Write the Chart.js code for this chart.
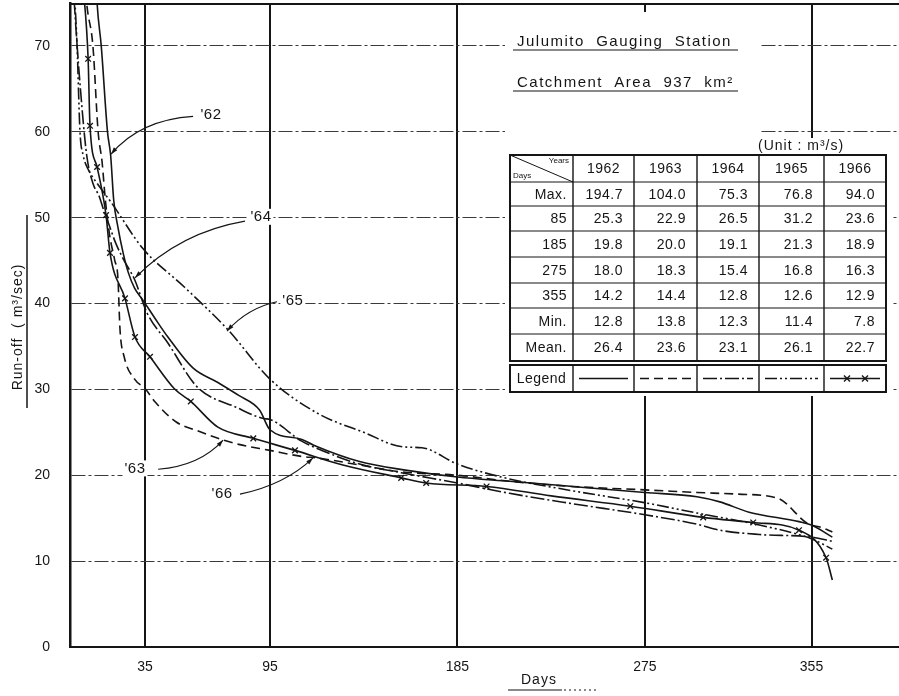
<!DOCTYPE html>
<html>
<head>
<meta charset="utf-8">
<script src="https://cdn.jsdelivr.net/npm/chart.js@4.4.1/dist/chart.umd.min.js"></script>
<style>
html, body { margin: 0; padding: 0; background: #fff; }
</style>
</head>
<body>
<canvas id="myChart" width="899" height="696"></canvas>
<script>
// axis ticks
const dayTicks = [35, 95, 185, 275, 355];
const flowTicks = [0, 10, 20, 30, 40, 50, 60, 70];

// duration curves (days, m3/s)
const days1962 = [1, 6, 10, 12, 14, 17, 18.5, 20, 22, 24.5, 27, 30, 34, 40, 46, 58, 70, 80, 90, 95, 110, 116, 138, 160, 185, 210, 240, 275, 300, 311, 325, 349, 355, 365];
const flow1962 = [194.7, 110, 86, 75, 70, 60, 57.3, 52, 48.9, 45.9, 43.6, 41.8, 40.4, 38.2, 36.1, 32.5, 30.8, 29.3, 27.6, 25.3, 24.2, 23.5, 21.6, 20.6, 19.8, 19.3, 18.7, 18.0, 17.5, 16.9, 15.7, 14.6, 14.2, 12.8];

const days1963 = [1, 4, 7, 10, 12.5, 14.4, 16, 18, 20.5, 22, 23, 25, 30, 35, 40, 50, 60, 70, 80, 95, 110, 118, 138, 158, 185, 210, 240, 275, 300, 320, 339, 353, 360, 365];
const flow1963 = [104, 85, 75, 70, 60, 56.5, 52, 48, 45, 43, 37, 33.8, 31.2, 30.1, 28.5, 26.2, 25.2, 24.3, 23.6, 22.9, 22.2, 22.0, 21.2, 20.4, 20.0, 19.3, 18.7, 18.3, 18.0, 17.8, 17.3, 14.4, 13.9, 13.4];

const days1964 = [1, 2, 4, 7, 10, 13, 15, 18, 21, 25, 30, 36, 46, 60, 79, 92, 95, 110, 116, 138, 158, 185, 210, 240, 275, 300, 311, 330, 355, 365];
const flow1964 = [75.3, 71.5, 65, 57.3, 54, 52.5, 51, 49, 47, 45, 42.8, 38.9, 35.4, 30.3, 27.9, 26.6, 26.5, 24.0, 23.3, 21.3, 20.3, 19.1, 17.9, 16.7, 15.4, 14.3, 13.6, 13.1, 12.8, 12.3];

const days1965 = [1, 2.4, 3.8, 5.3, 8, 12, 19, 34, 54, 75, 95, 118, 140, 159, 168, 185, 206, 240, 275, 300, 330, 355, 365];
const flow1965 = [76.8, 70, 60, 57.3, 55.5, 54, 51.7, 46.4, 41.9, 36.9, 31.2, 27.2, 25.0, 23.3, 23.2, 21.3, 19.8, 18.2, 16.8, 15.6, 14.2, 12.6, 11.4];

const days1966 = [1, 5, 7.7, 8.6, 12, 16.3, 18.2, 25.4, 30.2, 37.4, 49, 57, 70, 87, 107, 130, 158, 170, 199, 230, 268, 303, 327, 349, 362, 365];
const flow1966 = [94.0, 78, 68.5, 60.7, 55.9, 50.3, 45.9, 40.6, 36.1, 33.8, 30.1, 28.6, 25.6, 24.3, 22.9, 21.2, 19.7, 19.1, 18.7, 17.6, 16.4, 15.1, 14.5, 13.6, 10.4, 7.8];
const plain1966 = [1, 5, 49, 70, 130, 230, 365]; // bends without an x mark

// summary table
const years = ['1962', '1963', '1964', '1965', '1966'];
const rowNames = ['Max.', '85', '185', '275', '355', 'Min.', 'Mean.'];
const rowMax  = [194.7, 104.0, 75.3, 76.8, 94.0];
const row85   = [25.3, 22.9, 26.5, 31.2, 23.6];
const row185  = [19.8, 20.0, 19.1, 21.3, 18.9];
const row275  = [18.0, 18.3, 15.4, 16.8, 16.3];
const row355  = [14.2, 14.4, 12.8, 12.6, 12.9];
const rowMin  = [12.8, 13.8, 12.3, 11.4, 7.8];
const rowMean = [26.4, 23.6, 23.1, 26.1, 22.7];

// year tags: text spot, leader start, bend, tip (day, m3/s)
const tagText = ["'62", "'64", "'65", "'63", "'66"];
const tagAt   = [[66.7, 62.0], [90.7, 50.1], [106.0, 40.3], [30.2, 20.8], [72.0, 17.8]];
const tagFrom = [[58.1, 61.8], [83.0, 49.6], [98.4, 40.2], [41.3, 20.7], [80.6, 17.8]];
const tagBend = [[32.6, 61.4], [51.8, 48.3], [84.5, 39.5], [61.4, 21.1], [102.2, 18.9]];
const tagTip  = [[18.7, 57.4], [30.2, 43.0], [74.4, 36.8], [72.5, 24.1], [115.6, 22.0]];

const ink = '#151515';
const font = "'Liberation Sans', Arial, sans-serif";

function series(days, flows) {
    return days.map(function(d, i){ return {x: d, y: flows[i]}; });
}

function curve(label, days, flows, dash) {
    return {
        label: label,
        data: series(days, flows),
        borderColor: ink,
        borderWidth: 1.6,
        borderDash: dash,
        pointRadius: 0,
        fill: false,
        cubicInterpolationMode: 'monotone'
    };
}

const set1966 = curve('1966', days1966, flow1966, []);
set1966.pointStyle = 'crossRot';
set1966.pointBorderColor = ink;
set1966.pointBorderWidth = 1.3;
set1966.pointRadius = function(ctx){
    return plain1966.indexOf(days1966[ctx.dataIndex]) >= 0 ? 0 : 4;
};

const data = {
    datasets: [
        curve('1962', days1962, flow1962, []),
        curve('1963', days1963, flow1963, [9, 5]),
        curve('1964', days1964, flow1964, [14, 3, 2, 3]),
        curve('1965', days1965, flow1965, [12, 3, 2, 3, 2, 3]),
        set1966
    ]
};

function underlineText(ctx, txt, x, y, lineTo) {
    ctx.fillText(txt, x, y);
    ctx.beginPath();
    ctx.moveTo(x - 4, y + 8);
    ctx.lineTo(lineTo, y + 8);
    ctx.stroke();
}

const paper = {
    id: 'paper',
    beforeDatasetsDraw(chart) {
        const ctx = chart.ctx, a = chart.chartArea;
        ctx.save();
        // frame top
        ctx.strokeStyle = ink;
        ctx.lineWidth = 2;
        ctx.beginPath();
        ctx.moveTo(a.left, a.top + 1);
        ctx.lineTo(a.right, a.top + 1);
        ctx.stroke();
        // blank paper under the headings and the table
        ctx.fillStyle = '#fff';
        ctx.fillRect(505, 12, 255, 130);
        ctx.fillRect(505, 138, 387, 258);
        ctx.restore();
    },
    afterDraw(chart) {
        const ctx = chart.ctx;
        const sx = chart.scales.x, sy = chart.scales.y;
        const P = function(p){ return [sx.getPixelForValue(p[0]), sy.getPixelForValue(p[1])]; };
        ctx.save();
        ctx.fillStyle = ink;
        ctx.strokeStyle = ink;

        // headings
        ctx.font = '15px ' + font;
        ctx.letterSpacing = '1.5px';
        ctx.textAlign = 'left';
        ctx.textBaseline = 'middle';
        ctx.lineWidth = 1.2;
        underlineText(ctx, 'Julumito  Gauging  Station', 517, 42, 738);
        underlineText(ctx, 'Catchment  Area  937  km\u00b2', 517, 83, 738);
        ctx.font = '14px ' + font;
        ctx.letterSpacing = '1px';
        ctx.fillText('(Unit : m\u00b3/s)', 758, 146);

        // table
        const colX = [510, 573, 634, 697, 759, 824, 886];
        const rowY = [155, 182, 206, 231, 257, 283, 308, 334, 361];
        const legY = [365, 392];
        const rows = [rowMax, row85, row185, row275, row355, rowMin, rowMean];
        ctx.lineWidth = 2;
        ctx.strokeRect(colX[0], rowY[0], colX[6] - colX[0], rowY[8] - rowY[0]);
        ctx.strokeRect(colX[0], legY[0], colX[6] - colX[0], legY[1] - legY[0]);
        ctx.lineWidth = 1.4;
        for (let c = 1; c < 6; c++) {
            ctx.beginPath();
            ctx.moveTo(colX[c], rowY[0]); ctx.lineTo(colX[c], rowY[8]);
            ctx.moveTo(colX[c], legY[0]); ctx.lineTo(colX[c], legY[1]);
            ctx.stroke();
        }
        ctx.lineWidth = 1;
        for (let r = 1; r < 8; r++) {
            ctx.beginPath();
            ctx.moveTo(colX[0], rowY[r]); ctx.lineTo(colX[6], rowY[r]);
            ctx.stroke();
        }
        ctx.beginPath();
        ctx.moveTo(colX[0], rowY[0]); ctx.lineTo(colX[1], rowY[1]);
        ctx.stroke();
        ctx.font = '8px ' + font;
        ctx.letterSpacing = '0px';
        ctx.textAlign = 'right';
        ctx.fillText('Years', colX[1] - 4, rowY[0] + 6);
        ctx.textAlign = 'left';
        ctx.fillText('Days', colX[0] + 3, rowY[1] - 6);

        ctx.font = '14px ' + font;
        ctx.letterSpacing = '0.5px';
        ctx.textAlign = 'center';
        years.forEach(function(y, c){
            ctx.fillText(y, (colX[c + 1] + colX[c + 2]) / 2, (rowY[0] + rowY[1]) / 2 + 1);
        });
        rows.forEach(function(vals, r){
            const yMid = (rowY[r + 1] + rowY[r + 2]) / 2 + 1;
            ctx.textAlign = 'right';
            ctx.fillText(rowNames[r], colX[1] - 6, yMid);
            vals.forEach(function(v, c){
                ctx.fillText(v.toFixed(1), colX[c + 2] - 11, yMid);
            });
        });
        ctx.textAlign = 'center';
        ctx.fillText('Legend', (colX[0] + colX[1]) / 2, (legY[0] + legY[1]) / 2 + 1);

        // legend samples
        const ly = (legY[0] + legY[1]) / 2;
        chart.data.datasets.forEach(function(ds, c){
            const x0 = colX[c + 1] + 6, x1 = colX[c + 2] - 6;
            ctx.lineWidth = 1.4;
            ctx.setLineDash(ds.borderDash || []);
            ctx.beginPath();
            ctx.moveTo(x0, ly); ctx.lineTo(x1, ly);
            ctx.stroke();
            ctx.setLineDash([]);
            if (ds.pointStyle === 'crossRot') {
                [x0 + 17, x0 + 35].forEach(function(px){
                    ctx.beginPath();
                    ctx.moveTo(px - 3, ly - 3); ctx.lineTo(px + 3, ly + 3);
                    ctx.moveTo(px - 3, ly + 3); ctx.lineTo(px + 3, ly - 3);
                    ctx.stroke();
                });
            }
        });

        // year tags with leaders
        ctx.font = '15px ' + font;
        ctx.letterSpacing = '0.5px';
        ctx.textAlign = 'center';
        tagText.forEach(function(t, i){
            const p = P(tagAt[i]), s = P(tagFrom[i]), b = P(tagBend[i]), e = P(tagTip[i]);
            const w = ctx.measureText(t).width;
            ctx.fillStyle = '#fff';
            ctx.fillRect(p[0] - w / 2 - 2, p[1] - 8, w + 4, 16);
            ctx.fillStyle = ink;
            ctx.fillText(t, p[0], p[1]);
            ctx.lineWidth = 1.1;
            ctx.beginPath();
            ctx.moveTo(s[0], s[1]);
            ctx.quadraticCurveTo(b[0], b[1], e[0], e[1]);
            ctx.stroke();
            const ang = Math.atan2(e[1] - b[1], e[0] - b[0]);
            ctx.beginPath();
            ctx.moveTo(e[0], e[1]);
            ctx.lineTo(e[0] - 7 * Math.cos(ang) + 2.2 * Math.sin(ang), e[1] - 7 * Math.sin(ang) - 2.2 * Math.cos(ang));
            ctx.lineTo(e[0] - 7 * Math.cos(ang) - 2.2 * Math.sin(ang), e[1] - 7 * Math.sin(ang) + 2.2 * Math.cos(ang));
            ctx.closePath();
            ctx.fill();
        });

        // axis titles
        ctx.font = '14px ' + font;
        ctx.letterSpacing = '1px';
        ctx.save();
        ctx.translate(18, 327);
        ctx.rotate(-Math.PI / 2);
        ctx.textAlign = 'center';
        ctx.fillText('Run-off  ( m\u00b3/sec)', 0, 0);
        ctx.restore();
        ctx.lineWidth = 1.5;
        ctx.beginPath();
        ctx.moveTo(27, 215); ctx.lineTo(27, 408);
        ctx.stroke();

        ctx.textAlign = 'left';
        ctx.fillText('Days', 521, 680);
        ctx.lineWidth = 1.2;
        ctx.beginPath();
        ctx.moveTo(508, 690); ctx.lineTo(562, 690);
        ctx.stroke();
        ctx.setLineDash([2, 3]);
        ctx.beginPath();
        ctx.moveTo(564, 690); ctx.lineTo(596, 690);
        ctx.stroke();
        ctx.restore();
    }
};

const config = {
    type: 'line',
    data: data,
    options: {
        responsive: false,
        animation: false,
        devicePixelRatio: 1,
        layout: { autoPadding: false, padding: { top: 3, right: 0, left: 0, bottom: 0 } },
        plugins: { legend: { display: false }, tooltip: { enabled: false } },
        scales: {
            x: {
                type: 'linear',
                min: -1,
                max: 397,
                afterBuildTicks: function(s){ s.ticks = dayTicks.map(function(v){ return {value: v}; }); },
                afterFit: function(s){
                    s.height = 49;
                    s.paddingLeft = 0; s.paddingRight = 0;
                },
                grid: { color: ink, lineWidth: 2, drawTicks: false },
                border: { color: ink, width: 2 },
                ticks: { color: ink, padding: 12, maxRotation: 0, autoSkip: false,
                         font: { family: font, size: 14 } }
            },
            y: {
                min: 0,
                max: 75,
                afterBuildTicks: function(s){ s.ticks = flowTicks.map(function(v){ return {value: v}; }); },
                afterFit: function(s){
                    s.width = 70;
                    s.paddingTop = 0; s.paddingBottom = 0;
                },
                grid: { color: '#3a3a3a', lineWidth: 1, drawTicks: false },
                border: { color: ink, width: 2.5, dash: [14, 3, 3, 3] },
                ticks: { color: ink, padding: 20, font: { family: font, size: 14 } }
            }
        }
    },
    plugins: [paper]
};

const myChart = new Chart(document.getElementById('myChart'), config);
</script>
</body>
</html>
